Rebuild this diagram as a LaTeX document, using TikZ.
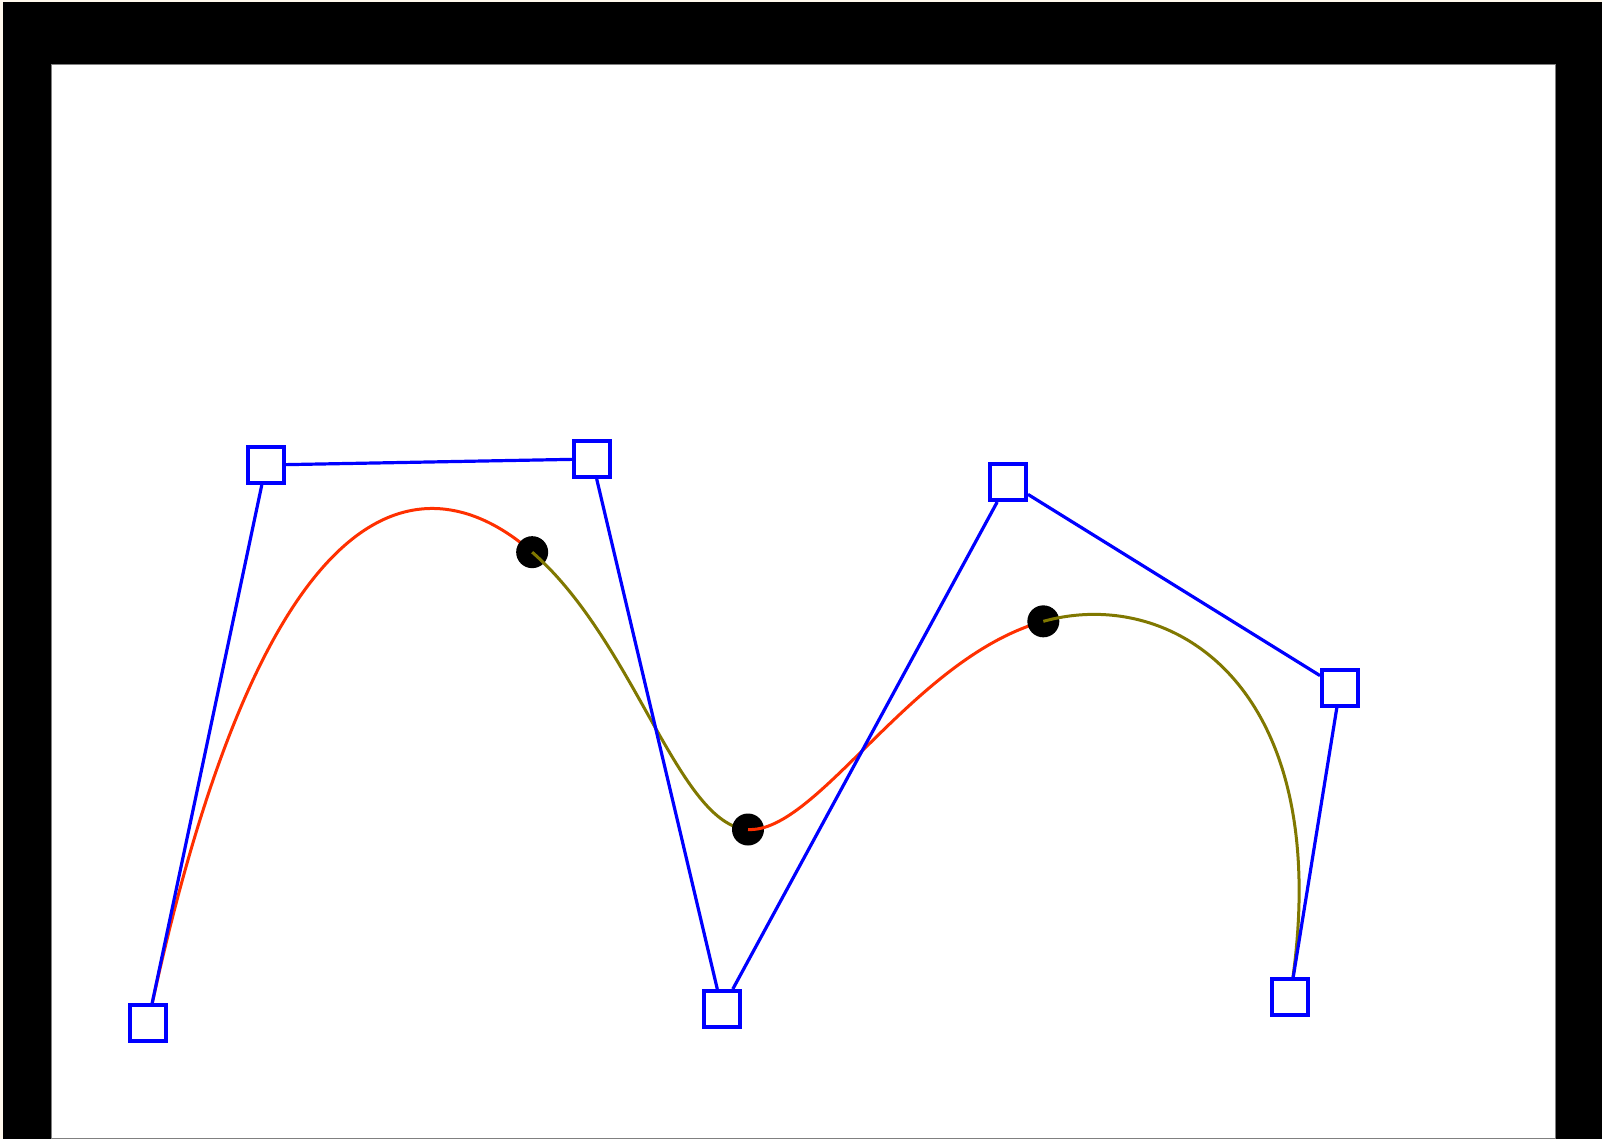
\documentclass[tikz,border=0pt]{standalone}
\usetikzlibrary{calc}
\definecolor{cream}{RGB}{255,248,236}
\definecolor{splred}{RGB}{255,48,0}
\definecolor{splolive}{RGB}{128,120,0}
\definecolor{edgegray}{RGB}{128,128,128}
\pgfdeclarelayer{frame}
\pgfdeclarelayer{curves}
\pgfdeclarelayer{polyline}
\pgfsetlayers{frame,curves,polyline,main}
\tikzset{
  ctrlbox/.style={draw=blue, fill=white, line width=4pt, rectangle, minimum size=36pt, inner sep=0pt},
  knotdot/.style={circle, fill=black, minimum size=32pt, inner sep=0pt},
  polyedge/.style={draw=blue, line width=3.2pt},
  redseg/.style={draw=splred, line width=3pt},
  oliveseg/.style={draw=splolive, line width=3pt},
}
\begin{document}
\begin{tikzpicture}[x=1pt,y=-1pt]
\useasboundingbox (0,0) rectangle (1602,1139);
\begin{pgfonlayer}{frame}
  \fill[cream] (0,0) rectangle (1602,1139);
  \fill[black] (3,2) rectangle (1602,1139);
  \filldraw[fill=white, draw=edgegray, line width=1pt] (51,65) rectangle (1555,1138);
\end{pgfonlayer}
% control points
\node[ctrlbox] (P0) at (148,1023) {};
\node[ctrlbox] (P1) at (266,465) {};
\node[ctrlbox] (P2) at (592,459) {};
\node[ctrlbox] (P3) at (722,1009) {};
\node[ctrlbox] (P4) at (1008,482) {};
\node[ctrlbox] (P5) at (1340,688) {};
\node[ctrlbox] (P6) at (1290,997) {};
% control polygon
\begin{pgfonlayer}{polyline}
  \draw[polyedge] (P0) -- (P1) -- (P2) -- (P3) -- (P4) -- (P5) -- (P6);
\end{pgfonlayer}
% clamped cubic B-spline as Bezier segments
\begin{pgfonlayer}{curves}
  \path let \p1=(P1.center), \p2=(P2.center), \p3=(P3.center), \p4=(P4.center), \p5=(P5.center) in
    coordinate (K1) at ({(3*\x1+7*\x2+2*\x3)/12},{(3*\y1+7*\y2+2*\y3)/12})
    coordinate (K2) at ({(\x2+4*\x3+\x4)/6},{(\y2+4*\y3+\y4)/6})
    coordinate (K3) at ({(2*\x3+7*\x4+3*\x5)/12},{(2*\y3+7*\y4+3*\y5)/12});
  \draw[redseg] (P0.center) .. controls (P1.center) and ($(P1.center)!.5!(P2.center)$) .. (K1);
  \node[knotdot] (D1) at (K1) {};
  \draw[oliveseg] (D1.center) .. controls ($(P2.center)!1/3!(P3.center)$) and ($(P2.center)!2/3!(P3.center)$) .. (K2);
  \node[knotdot] (D2) at (K2) {};
  \draw[redseg] (D2.center) .. controls ($(P3.center)!1/3!(P4.center)$) and ($(P3.center)!2/3!(P4.center)$) .. (K3);
  \node[knotdot] (D3) at (K3) {};
  \draw[oliveseg] (D3.center) .. controls ($(P4.center)!.5!(P5.center)$) and (P5.center) .. (P6.center);
\end{pgfonlayer}
\end{tikzpicture}
\end{document}
